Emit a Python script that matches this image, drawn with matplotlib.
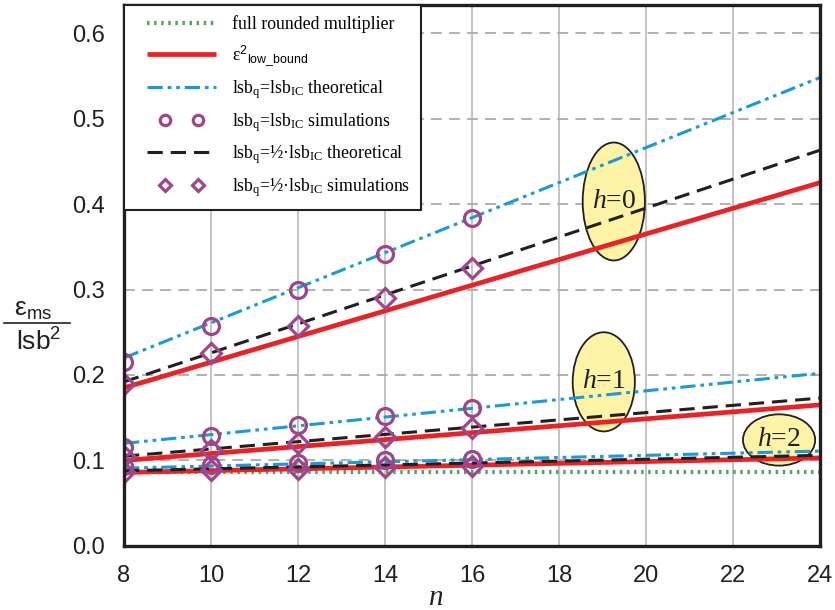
import matplotlib.pyplot as plt
from matplotlib.patches import Ellipse
from matplotlib.legend_handler import HandlerLine2D

plt.rcParams['mathtext.fontset'] = 'custom'
plt.rcParams['mathtext.rm'] = 'Liberation Serif'
plt.rcParams['mathtext.it'] = 'Liberation Serif:italic'
plt.rcParams['mathtext.sf'] = 'Liberation Sans'

# data
n_sim = [8, 10, 12, 14, 16]
n_th = [8, 24]

full_rounded = [0.087, 0.087]

# h = 0
low_h0 = [0.185, 0.425]
th_full_h0 = [0.220, 0.548]
th_half_h0 = [0.192, 0.463]
sim_full_h0 = [0.215, 0.257, 0.300, 0.342, 0.384]
sim_half_h0 = [0.190, 0.226, 0.257, 0.290, 0.325]

# h = 1
low_h1 = [0.100, 0.165]
th_full_h1 = [0.120, 0.202]
th_half_h1 = [0.105, 0.173]
sim_full_h1 = [0.116, 0.129, 0.141, 0.152, 0.161]
sim_half_h1 = [0.105, 0.112, 0.120, 0.128, 0.138]

# h = 2
low_h2 = [0.086, 0.103]
th_full_h2 = [0.091, 0.111]
th_half_h2 = [0.088, 0.106]
sim_full_h2 = [0.093, 0.095, 0.097, 0.100, 0.102]
sim_half_h2 = [0.087, 0.089, 0.090, 0.092, 0.094]

red = '#ED2024'
blue = '#1A9AD7'
black = '#231F20'
green = '#4FA36E'
purple = '#9E468C'

fig = plt.figure(figsize=(8.35, 6.1), dpi=100)
ax = fig.add_axes([0.1485, 0.105, 0.8335, 0.887])

green_kw = dict(color=green, lw=3, linestyle=(0, (0.6, 1.1)), zorder=3)
red_kw = dict(color=red, lw=3.4, solid_capstyle='butt', zorder=3)
blue_kw = dict(color=blue, lw=2.2, linestyle=(0, (5, 1.6, 1.2, 1.6, 1.2, 1.6)), zorder=3)
black_kw = dict(color=black, lw=2.2, linestyle=(0, (5, 2.6)), zorder=3)
circ_kw = dict(linestyle='none', marker='o', ms=11.5, mfc='none', mec=purple, mew=2.3, zorder=5)
diam_kw = dict(linestyle='none', marker='D', ms=10, mfc='none', mec=purple, mew=2.3, zorder=5)

h_green, = ax.plot(n_th, full_rounded, **green_kw)
h_red, = ax.plot(n_th, low_h0, **red_kw)
ax.plot(n_th, low_h1, **red_kw)
ax.plot(n_th, low_h2, **red_kw)
h_blue, = ax.plot(n_th, th_full_h0, **blue_kw)
ax.plot(n_th, th_full_h1, **blue_kw)
ax.plot(n_th, th_full_h2, **blue_kw)
h_black, = ax.plot(n_th, th_half_h0, **black_kw)
ax.plot(n_th, th_half_h1, **black_kw)
ax.plot(n_th, th_half_h2, **black_kw)
h_circ, = ax.plot(n_sim, sim_full_h0, **circ_kw)
ax.plot(n_sim, sim_full_h1, **circ_kw)
ax.plot(n_sim, sim_full_h2, **circ_kw)
h_diam, = ax.plot(n_sim, sim_half_h0, **diam_kw)
ax.plot(n_sim, sim_half_h1, **diam_kw)
ax.plot(n_sim, sim_half_h2, **diam_kw)

# h labels in yellow ellipses
for (cx, cy, w, h, txt) in [(19.26, 0.403, 1.43, 0.138, '0'),
                            (19.03, 0.192, 1.43, 0.116, '1'),
                            (23.06, 0.124, 1.66, 0.060, '2')]:
    ax.add_patch(Ellipse((cx, cy), w, h, facecolor='#FFF3A5', edgecolor=black,
                         lw=1.3, zorder=2))
    ax.text(cx, cy, '$h$=' + txt, ha='center', va='center', fontsize=20,
            family='Liberation Serif', color=black, zorder=6)

ax.set_xlim(8, 24)
ax.set_ylim(0, 0.633)
ax.set_xticks(range(8, 25, 2))
ax.set_yticks([0, 0.1, 0.2, 0.3, 0.4, 0.5, 0.6])
ax.set_yticklabels(['0.0', '0.1', '0.2', '0.3', '0.4', '0.5', '0.6'])
ax.tick_params(length=0, labelsize=17, pad=14, colors=black)
for lab in ax.get_xticklabels() + ax.get_yticklabels():
    lab.set_family('Liberation Sans')
ax.tick_params(axis='x', pad=14)

ax.grid(axis='x', color='#BEBEBE', lw=1.3, linestyle='-', zorder=1)
ax.grid(axis='y', color='#ABABAB', lw=1.3, linestyle=(0, (6, 4)), zorder=1)
ax.set_axisbelow(True)
for sp in ax.spines.values():
    sp.set_linewidth(2.4)
    sp.set_color(black)
    sp.set_zorder(7)

fig.text(436 / 835, 1 - 597 / 610, '$n$', fontsize=21, ha='center', va='center', color=black)

# fraction-style y label
fig.text(0.040, 1 - 309 / 610, r'$\mathsf{ε_{ms}}$', fontsize=19, ha='center', va='center', color=black)
fig.add_artist(plt.Line2D([0.005, 0.084], [1 - 323 / 610] * 2, color=black, lw=1.2))
fig.text(0.046, 1 - 343 / 610, r'$\mathsf{lsb^2}$', fontsize=19, ha='center', va='center', color=black)

labels = ['full rounded multiplier',
          r'$\mathrm{ε}^{\mathsf{2}}{}_{\mathsf{low\_bound}}$',
          r'lsb$_{\mathrm{q}}$=lsb$_{\mathrm{IC}}$ theoretical',
          r'lsb$_{\mathrm{q}}$=lsb$_{\mathrm{IC}}$ simulations',
          r'lsb$_{\mathrm{q}}$=½·lsb$_{\mathrm{IC}}$ theoretical',
          r'lsb$_{\mathrm{q}}$=½·lsb$_{\mathrm{IC}}$ simulations']
line_handler = HandlerLine2D(xpad=0.7)
mk_handler = HandlerLine2D(numpoints=2, marker_pad=1.0, xpad=0.7)
leg = ax.legend([h_green, h_red, h_blue, h_circ, h_black, h_diam], labels,
                loc='upper left', bbox_to_anchor=(0, 1), borderaxespad=0,
                prop={'family': 'Liberation Serif', 'size': 12.8},
                handlelength=4.55, labelspacing=0.56,
                fancybox=False, framealpha=1, edgecolor=black,
                borderpad=0.6, handletextpad=0.95, markerscale=0.65,
                handler_map={h_green: line_handler, h_red: line_handler,
                             h_blue: line_handler, h_black: line_handler,
                             h_circ: mk_handler, h_diam: mk_handler})
leg.get_frame().set_linewidth(1.5)
leg.set_zorder(8)

fig.savefig('out.png', dpi=100)
